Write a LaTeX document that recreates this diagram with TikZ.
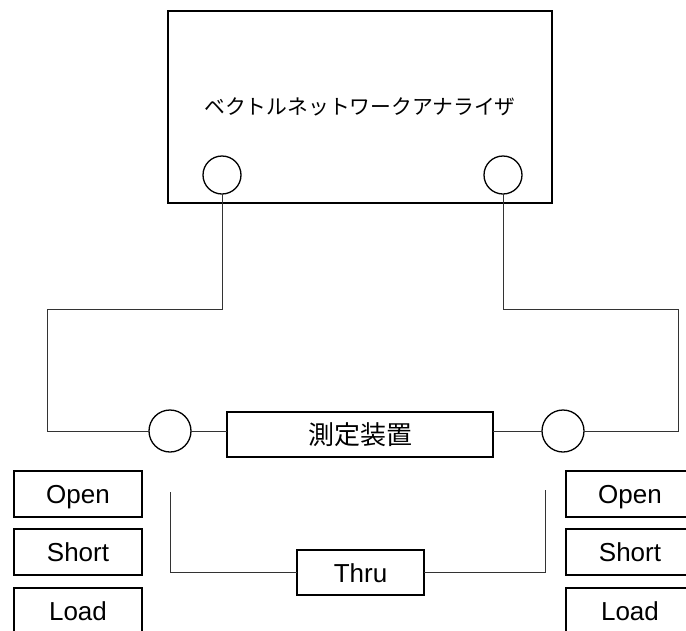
\documentclass[tikz,border=0pt]{standalone}
\usepackage{fontspec}
\setmainfont{Liberation Sans}
\newfontfamily\jp{Noto Sans CJK JP}
\begin{document}
\begin{tikzpicture}[x=1pt,y=-1pt,
  boxst/.style={draw=black,line width=1.3pt,rectangle,inner sep=0pt,outer sep=0pt},
  portst/.style={draw=black,line width=1.3pt,circle,inner sep=0pt,outer sep=0pt},
  wire/.style={draw=black!80,line width=1pt},
  latin/.style={font=\fontsize{26}{30}\selectfont,text height=19pt,text depth=0pt},
  calst/.style={boxst,latin,minimum width=128pt,minimum height=46pt}]
\useasboundingbox (0,0) rectangle (686,630);
\clip (0,0) rectangle (686,630);
% vector network analyser
\node[boxst,minimum width=384pt,minimum height=192pt,font=\jp\fontsize{20.8}{24}\selectfont] (vna) at (360,107) {ベクトルネットワークアナライザ};
\node[portst,minimum size=38pt] (pL) at (222,175) {};
\node[portst,minimum size=38pt] (pR) at (503,175) {};
% device under test
\node[portst,minimum size=42pt] (dL) at (170,431) {};
\node[portst,minimum size=42pt] (dR) at (563,431) {};
\node[boxst,minimum width=266pt,minimum height=45pt,font=\jp\fontsize{26}{30}\selectfont] (dut) at (360,434.5) {測定装置};
% cables
\coordinate (lTop) at (47,309);
\coordinate (rTop) at (678,309);
\draw[wire] (pL.south) |- (lTop) |- (dL.west);
\draw[wire] (pR.south) |- (rTop) |- (dR.east);
\draw[wire] (dL.east) -- (dL.east -| dut.west);
\draw[wire] (dR.west) -- (dR.west -| dut.east);
% calibration standards
\node[calst] (openL) at (78,494) {Open};
\node[calst] (shortL) at (78,552) {Short};
\node[calst] (loadL) at (78,611) {Load};
\node[calst] (openR) at (630,494) {Open};
\node[calst] (shortR) at (630,552) {Short};
\node[calst] (loadR) at (630,611) {Load};
% thru
\node[boxst,latin,minimum width=127pt,minimum height=45pt] (thru) at (360.5,572.5) {Thru};
\coordinate (tL) at (170,492);
\coordinate (tR) at (545,490);
\draw[wire] (tL) |- (thru.west);
\draw[wire] (tR) |- (thru.east);
\end{tikzpicture}
\end{document}
